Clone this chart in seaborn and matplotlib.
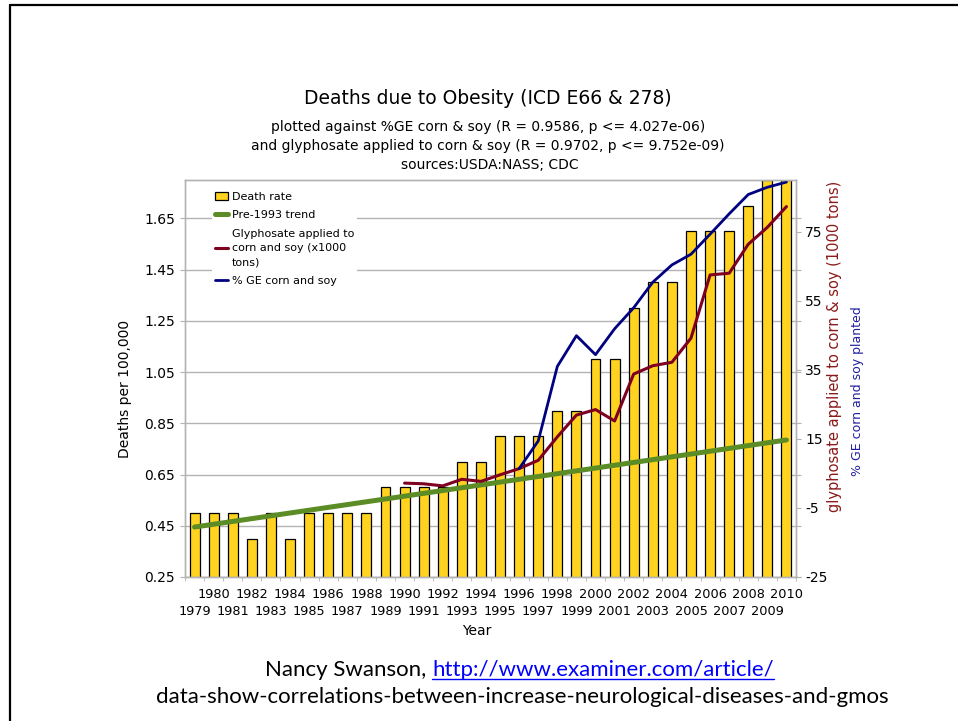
import numpy as np
import pandas as pd
import matplotlib
matplotlib.use("Agg")
import matplotlib.pyplot as plt
from matplotlib.lines import Line2D
import seaborn as sns

# values
YEARS = list(range(1979, 2011))
DEATH_RATE = [0.5, 0.5, 0.5, 0.4, 0.5, 0.4, 0.5, 0.5, 0.5, 0.5,
              0.6, 0.6, 0.6, 0.6, 0.7, 0.7, 0.8, 0.8, 0.8, 0.9,
              0.9, 1.1, 1.1, 1.3, 1.4, 1.4, 1.6, 1.6, 1.6, 1.7,
              1.8, 1.8]
TREND_YEARS = [1979, 2010]
TREND_RATE = [0.445, 0.785]
GLYPHOSATE_YEARS = list(range(1990, 2011))
GLYPHOSATE = [2.2, 2.0, 1.4, 3.3, 2.7, 4.6, 6.4, 8.8, 15.6, 21.9, 23.5,
              20.2, 33.8, 36.2, 37.2, 44.2, 62.5, 63.0, 71.4, 76.3, 82.3]
GE_YEARS = list(range(1996, 2011))
GE_PERCENT = [6.4, 14.4, 36.0, 44.9, 39.4, 46.9, 53.0, 60.4, 65.4, 68.5,
              74.3, 80.2, 85.8, 87.9, 89.4]

LEFT_TICKS = [0.25, 0.45, 0.65, 0.85, 1.05, 1.25, 1.45, 1.65]
RIGHT_TICKS = [-25, -5, 15, 35, 55, 75]
LEGEND_ORDER = ["Death rate", "Pre-1993 trend",
                "Glyphosate applied to\ncorn and soy (x1000\ntons)", "% GE corn and soy"]

BAR_COLOR = "#FFD320"
TREND_COLOR = "#5B8C25"
GLY_COLOR = "#7E0021"
GE_COLOR = "#000080"
GRAY = "#b3b3b3"

W, H = 958, 721


def fx(px):
    return px / W


def fy(py):
    return 1 - py / H


sns.set_style("white")
plt.rcParams["font.family"] = ["DejaVu Sans"]
plt.rcParams["axes.unicode_minus"] = False
plt.rcParams["text.color"] = "black"

fig = plt.figure(figsize=(W / 100, H / 100), dpi=100)
ax = fig.add_axes([fx(185), fy(577), fx(796) - fx(185), fy(180) - fy(577)])
ax2 = ax.twinx()

df = pd.DataFrame({"year": [str(y) for y in YEARS], "rate": DEATH_RATE})
sns.barplot(data=df, x="year", y="rate", order=df["year"], color=BAR_COLOR,
            saturation=1, edgecolor="black", linewidth=0.9, width=0.52,
            label=LEGEND_ORDER[0], ax=ax)

first = YEARS[0]
sns.lineplot(x=[y - first for y in TREND_YEARS], y=TREND_RATE, color=TREND_COLOR,
             lw=3.6, label=LEGEND_ORDER[1], ax=ax)
sns.lineplot(x=[y - first for y in GLYPHOSATE_YEARS], y=GLYPHOSATE, color=GLY_COLOR,
             lw=2.2, label=LEGEND_ORDER[2], ax=ax2)
sns.lineplot(x=[y - first for y in GE_YEARS], y=GE_PERCENT, color=GE_COLOR,
             lw=2.0, label=LEGEND_ORDER[3], ax=ax2)

for a in (ax, ax2):
    if a.get_legend() is not None:
        a.get_legend().remove()

# axes styling
ax.set_xlim(-0.5, len(YEARS) - 0.5)
ax.set_ylim(0.25, 1.80)
ax2.set_ylim(-25, 90)
ax.set_axisbelow(True)
ax.yaxis.grid(True, color=GRAY, lw=1)
ax.xaxis.grid(False)
for a in (ax, ax2):
    for s in a.spines.values():
        s.set_color(GRAY)
        s.set_linewidth(1)

ax.set_xticks(range(len(YEARS)))
ax.set_xticklabels([str(y) for y in YEARS])
ax.set_xticks(np.arange(-0.5, len(YEARS), 1), minor=True)
ax.tick_params(axis="x", which="major", length=0, pad=8, labelsize=9.3,
               labelcolor="black")
ax.tick_params(axis="x", which="minor", length=3, color=GRAY, bottom=True)
# stagger: odd years on a second row
for tick, y in zip(ax.xaxis.get_major_ticks(), YEARS):
    if y % 2 == 1:
        tick.set_pad(20.5)

ax.set_yticks(LEFT_TICKS)
ax.set_yticklabels([f"{v:.2f}" for v in LEFT_TICKS])
ax.tick_params(axis="y", length=3.6, color=GRAY, pad=3.5, labelsize=10,
               labelcolor="black", left=True, right=True, labelright=False)
ax2.set_yticks(RIGHT_TICKS)
ax2.tick_params(axis="y", length=3.6, color=GRAY, pad=3, labelsize=10,
                labelcolor="black", right=True)
ax.set_xlabel("")
ax.set_ylabel("")
ax2.set_ylabel("")

# legend
h1, l1 = ax.get_legend_handles_labels()
h2, l2 = ax2.get_legend_handles_labels()
lookup = dict(zip(l1 + l2, h1 + h2))
leg = ax2.legend([lookup[k] for k in LEGEND_ORDER], LEGEND_ORDER, loc="upper left",
                 bbox_to_anchor=(fx(206), fy(183)), bbox_transform=fig.transFigure,
                 fontsize=8, frameon=True, facecolor="white", edgecolor="none",
                 framealpha=1, fancybox=False, handlelength=1.2, handletextpad=0.3,
                 labelspacing=0.75, borderpad=0.3)
for t in leg.get_texts():
    t.set_linespacing(1.55)
    t.set_color("black")

# titles and labels
fig.text(fx(488), fy(98), "Deaths due to Obesity (ICD E66 & 278)",
         ha="center", va="center", fontsize=13.5)
fig.text(fx(488), fy(127), "plotted against %GE corn & soy (R = 0.9586, p <= 4.027e-06)",
         ha="center", va="center", fontsize=10)
fig.text(fx(488), fy(146), "and glyphosate applied to corn & soy (R = 0.9702, p <= 9.752e-09)",
         ha="center", va="center", fontsize=10)
fig.text(fx(490), fy(165), "sources:USDA:NASS; CDC",
         ha="center", va="center", fontsize=10)
fig.text(fx(125), fy(389), "Deaths per 100,000", rotation=90,
         ha="center", va="center", fontsize=10)
fig.text(fx(477), fy(631), "Year", ha="center", va="center", fontsize=10)
fig.text(fx(835), fy(346), "glyphosate applied to corn & soy (1000 tons)", rotation=90,
         ha="center", va="center", fontsize=10.5, color="#8B1A1A")
fig.text(fx(858), fy(391), "% GE corn and soy planted", rotation=90,
         ha="center", va="center", fontsize=9, color="#1F1F9F")

# source line with underlined link
fig.text(fx(432), fy(676), "Nancy Swanson, ", ha="right", va="baseline",
         fontsize=16, family="Lato")
link = fig.text(fx(432), fy(676), "http://www.examiner.com/article/", ha="left",
                va="baseline", fontsize=16, family="Lato", color="#0000FF")
fig.text(fx(522), fy(703), "data-show-correlations-between-increase-neurological-diseases-and-gmos",
         ha="center", va="baseline", fontsize=16, family="Lato")
fig.canvas.draw()
bb = link.get_window_extent()
fig.add_artist(Line2D([bb.x0 / W, bb.x1 / W], [fy(679), fy(679)],
                      color="#0000FF", lw=1, transform=fig.transFigure))

# slide frame
fig.add_artist(Line2D([fx(10), 1], [fy(5), fy(5)], color="black", lw=1.6,
                      transform=fig.transFigure))
fig.add_artist(Line2D([fx(10), fx(10)], [0, fy(5)], color="black", lw=1.6,
                      transform=fig.transFigure))

fig.savefig("out.png", dpi=100)
